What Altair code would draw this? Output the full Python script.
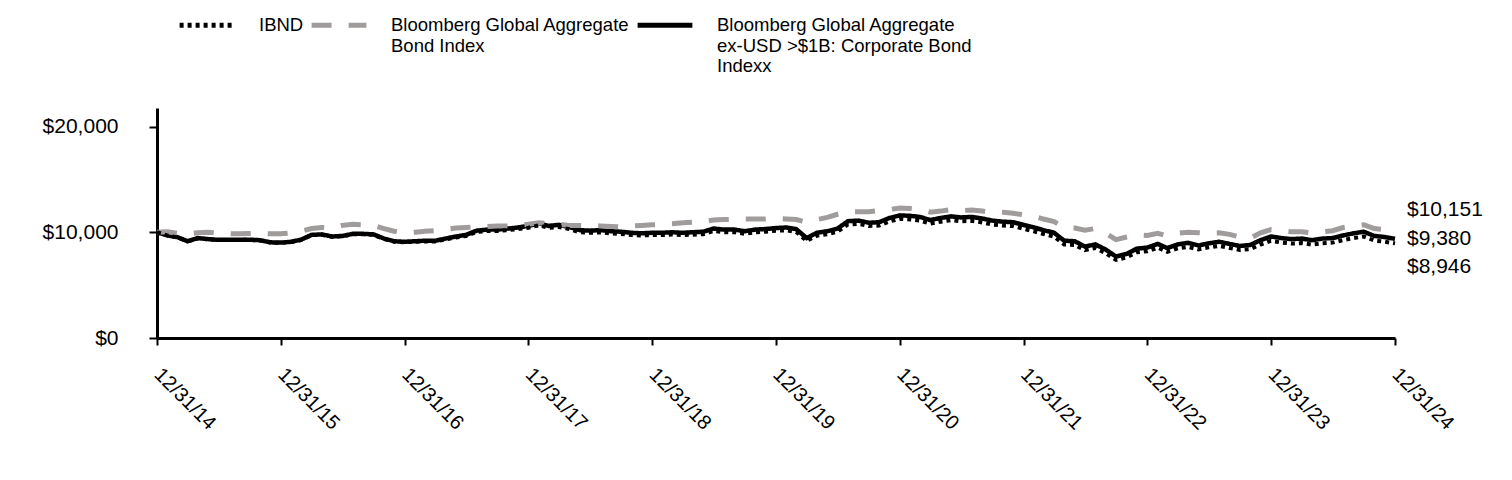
import calendar
import altair as alt
import pandas as pd

# ---- data -------------------------------------------------------------
S1 = "IBND"
S2 = "Bloomberg Global Aggregate Bond Index"
S3 = "Bloomberg Global Aggregate ex-USD >$1B: Corporate Bond Indexx"
series_names = [S1, S2, S3]

# month-end dates, Dec 2014 .. Dec 2024
dates = []
for y in range(2014, 2025):
    for m in range(1, 13):
        if y == 2014 and m < 12:
            continue
        d = calendar.monthrange(y, m)[1]
        dates.append(f"{y:04d}-{m:02d}-{d:02d}")

ibnd = [10000,
        9680, 9530, 9130, 9430, 9330, 9260, 9260, 9280, 9280, 9230, 9030, 9000,
        9080, 9270, 9720, 9770, 9570, 9620, 9810, 9810, 9760, 9360, 9110, 9060,
        9100, 9130, 9130, 9320, 9500, 9650, 10030, 10120, 10110, 10200, 10290, 10430,
        10660, 10410, 10500, 10300, 10000, 9950, 9990, 9890, 9840, 9740, 9690, 9740,
        9730, 9780, 9730, 9770, 9820, 10110, 10010, 10010, 9860, 10000, 10050, 10140,
        10180, 10030, 9180, 9670, 9820, 10060, 10740, 10790, 10590, 10630, 11020, 11270,
        11210, 11110, 10810, 11000, 11140, 11040, 11080, 10930, 10730, 10630, 10580, 10330,
        10080, 9830, 9580, 8850, 8800, 8310, 8500, 8010, 7380, 7620, 8100, 8200,
        8540, 8150, 8480, 8620, 8380, 8570, 8710, 8510, 8320, 8410, 8840, 9180,
        9030, 8930, 8980, 8830, 8970, 9020, 9260, 9450, 9600, 9210, 9110, 8946]

global_agg = [10000,
              10050, 9900, 9850, 9950, 10000, 9900, 9870, 9850, 9880, 9900, 9850, 9850,
              9950, 10100, 10350, 10450, 10400, 10650, 10750, 10700, 10650, 10350, 10100, 9950,
              10000, 10100, 10150, 10250, 10400, 10450, 10500, 10550, 10600, 10600, 10650, 10750,
              10900, 10800, 10750, 10650, 10650, 10650, 10600, 10550, 10500, 10600, 10650, 10700,
              10750, 10800, 10900, 10950, 11000, 11150, 11200, 11200, 11250, 11250, 11250, 11300,
              11250, 11200, 10950, 11200, 11400, 11700, 11950, 11950, 11950, 12050, 12150, 12300,
              12250, 12150, 11900, 12000, 12150, 12050, 12100, 12000, 11900, 11900, 11800, 11650,
              11500, 11250, 11000, 10450, 10400, 10200, 10350, 9900, 9300, 9550, 9750, 9700,
              9900, 9650, 9900, 10000, 9950, 9900, 9950, 9800, 9550, 9450, 9950, 10250,
              10150, 10050, 10050, 9950, 10050, 10150, 10450, 10600, 10700, 10350, 10250, 10151]

corp = [10000,
        9700, 9550, 9150, 9450, 9350, 9280, 9280, 9300, 9300, 9250, 9050, 9020,
        9100, 9300, 9750, 9800, 9600, 9650, 9850, 9850, 9800, 9400, 9150, 9100,
        9150, 9200, 9200, 9400, 9600, 9750, 10150, 10250, 10250, 10350, 10450, 10600,
        10850, 10600, 10700, 10500, 10200, 10150, 10200, 10100, 10050, 9950, 9900, 9950,
        9950, 10000, 9950, 10000, 10050, 10350, 10250, 10250, 10100, 10250, 10300, 10400,
        10450, 10300, 9450, 9950, 10100, 10350, 11050, 11100, 10900, 10950, 11350, 11600,
        11550, 11450, 11150, 11350, 11500, 11400, 11450, 11300, 11100, 11000, 10950, 10700,
        10450, 10200, 9950, 9200, 9150, 8650, 8850, 8350, 7700, 7950, 8450, 8550,
        8900, 8500, 8850, 9000, 8750, 8950, 9100, 8900, 8700, 8800, 9250, 9600,
        9450, 9350, 9400, 9250, 9400, 9450, 9700, 9900, 10050, 9650, 9550, 9380]

end_labels = ["$10,151", "$9,380", "$8,946"]
end_series = [S2, S3, S1]
end_values = [10151, 9380, 8946]

year_ticks = [f"{y}-12-31" for y in range(2014, 2025)]
y_ticks = [0, 10000, 20000]

# ---- frames -------------------------------------------------------------
rows = []
for name, vals in [(S1, ibnd), (S2, global_agg), (S3, corp)]:
    for d, v in zip(dates, vals):
        rows.append({"date": d, "series": name, "value": v})
df = pd.DataFrame(rows)

lab_df = pd.DataFrame({"date": [dates[-1]] * 3, "series": end_series,
                       "value": end_values, "label": end_labels})

FONT = "Liberation Sans"

x_enc = alt.X("date:T",
              scale=alt.Scale(type="utc", domain=[dates[0], dates[-1]]),
              axis=alt.Axis(values=year_ticks,
                            labelExpr="utcFormat(datum.value, '%m/%d/%y')",
                            labelAngle=45, labelAlign="left", labelBaseline="top",
                            labelFontSize=20, labelFont=FONT, labelColor="#000",
                            labelPadding=19, labelOffset=7,
                            tickSize=7, tickWidth=2, tickColor="#000",
                            domainColor="#000", domainWidth=3, grid=False, title=None,
                            labelOverlap=False))
y_enc = alt.Y("value:Q",
              scale=alt.Scale(domain=[0, 21750], nice=False, zero=True),
              axis=alt.Axis(values=y_ticks, format="$,.0f", labelFontSize=21,
                            labelFont=FONT, labelColor="#000", labelPadding=31,
                            tickSize=8, tickWidth=2, tickColor="#000",
                            domainColor="#000", domainWidth=3, grid=False, title=None))

# three-line labels (blank lines padded) so every entry has the same height
label_expr = ("datum.label == 'IBND' ? ['IBND', '', ''] : "
              "datum.label == 'Bloomberg Global Aggregate Bond Index' ? "
              "['Bloomberg Global Aggregate', 'Bond Index', ''] : "
              "['Bloomberg Global Aggregate', 'ex-USD >$1B: Corporate Bond', 'Indexx']")

legend = alt.Legend(title=None, orient="none", legendX=20, legendY=-113,
                    direction="horizontal", columns=3, labelExpr=label_expr,
                    labelFont=FONT, labelFontSize=18.5, labelColor="#000",
                    labelLimit=400, labelOffset=22, columnPadding=-3,
                    symbolType="stroke", symbolSize=3000, symbolStrokeWidth=5,
                    labelBaseline="middle", padding=0)

color_enc = alt.Color("series:N",
                      scale=alt.Scale(domain=series_names,
                                      range=["#000000", "#a09c9c", "#000000"]),
                      legend=legend)
dash_enc = alt.StrokeDash("series:N",
                          scale=alt.Scale(domain=series_names,
                                          range=[[4, 4], [20, 17], [1, 0]]),
                          legend=legend)

base = alt.Chart(df).encode(x=x_enc, y=y_enc, color=color_enc, strokeDash=dash_enc)

corp_line = base.transform_filter(alt.datum.series == S3).mark_line(strokeWidth=4.5)
glob_line = base.transform_filter(alt.datum.series == S2).mark_line(strokeWidth=5)
ibnd_line = base.transform_filter(alt.datum.series == S1).mark_line(strokeWidth=4)

lab_base = alt.Chart(lab_df).encode(x=alt.X("date:T"), y=alt.Y("value:Q"),
                                    text="label:N")
t1 = lab_base.transform_filter(alt.datum.series == S2).mark_text(
    align="left", baseline="middle", dx=12, dy=-21, font=FONT, fontSize=21, color="#000")
t2 = lab_base.transform_filter(alt.datum.series == S3).mark_text(
    align="left", baseline="middle", dx=12, dy=0, font=FONT, fontSize=21, color="#000")
t3 = lab_base.transform_filter(alt.datum.series == S1).mark_text(
    align="left", baseline="middle", dx=12, dy=24, font=FONT, fontSize=21, color="#000")

chart = alt.layer(corp_line, glob_line, ibnd_line, t1, t2, t3).properties(
    width=1238, height=230,
    autosize=alt.AutoSizeParams(type="none"),
    padding={"left": 149, "top": 100, "right": 109, "bottom": 130},
).configure(
    background="white",
    view=alt.ViewConfig(strokeWidth=0, stroke="transparent"),
)

chart.save("out.html", embed_options={"renderer": "svg", "actions": False})
